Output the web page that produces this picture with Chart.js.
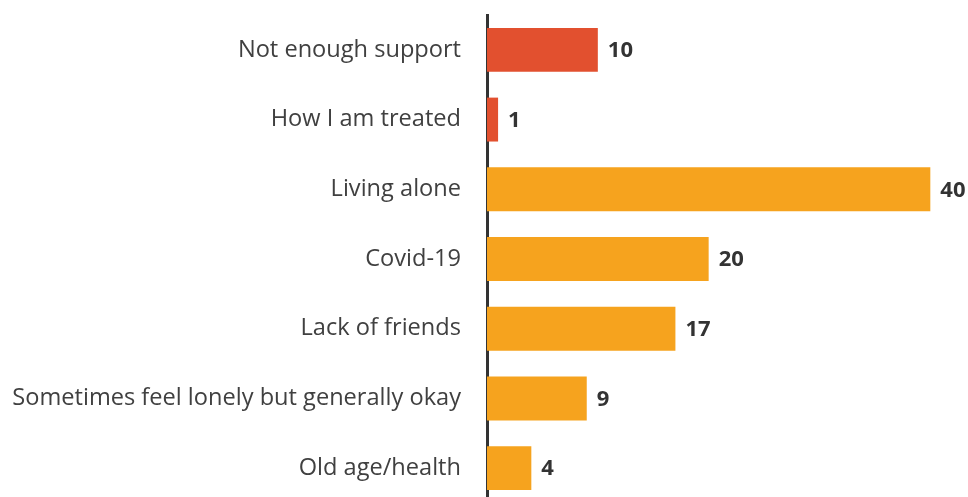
<!DOCTYPE html>
<html>
<head>
<meta charset="utf-8">
<script src="https://cdn.jsdelivr.net/npm/chart.js@4"></script>
<style>
  html, body { margin: 0; padding: 0; background: #fff; overflow: hidden; }
</style>
</head>
<body>
<canvas id="myChart" width="968" height="503"></canvas>
<script>
// categories and values
const categories = [
  "Not enough support",
  "How I am treated",
  "Living alone",
  "Covid-19",
  "Lack of friends",
  "Sometimes feel lonely but generally okay",
  "Old age/health"
];
const counts = [10, 1, 40, 20, 17, 9, 4];
const barColors = ["#E2502F", "#E2502F", "#F6A31E", "#F6A31E", "#F6A31E", "#F6A31E", "#F6A31E"];

// draws the count to the right of each bar
const valueLabels = {
  id: "valueLabels",
  afterDatasetsDraw(chart) {
    const ctx = chart.ctx;
    const meta = chart.getDatasetMeta(0);
    ctx.save();
    ctx.font = "bold 22px 'Open Sans'";
    ctx.fillStyle = "#333333";
    ctx.textBaseline = "middle";
    ctx.textAlign = "left";
    meta.data.forEach((bar, i) => {
      ctx.fillText(String(counts[i]), bar.x + 10, bar.y + 1);
    });
    ctx.restore();
  }
};

const ctx = document.getElementById("myChart").getContext("2d");
const chart = new Chart(ctx, {
  type: "bar",
  data: {
    labels: categories,
    datasets: [
      {
        data: counts,
        backgroundColor: barColors,
        borderWidth: 0,
        categoryPercentage: 1,
        barPercentage: 0.63
      }
    ]
  },
  options: {
    indexAxis: "y",
    responsive: false,
    animation: false,
    layout: { autoPadding: false, padding: { top: 15, right: 0, bottom: 0, left: 0 } },
    plugins: {
      legend: { display: false },
      tooltip: { enabled: false }
    },
    scales: {
      x: {
        display: false,
        min: 0,
        max: 43.4
      },
      y: {
        afterFit(scale) {
          scale.width = 487;
          // tick padding also gets added above/below the axis, drop it
          scale.paddingTop = 0;
          scale.paddingBottom = 0;
        },
        grid: { display: false },
        border: { display: true, color: "#333333", width: 3 },
        ticks: {
          padding: 18,
          color: "#404040",
          font: { family: "'Open Sans'", size: 23.6 }
        }
      }
    }
  },
  plugins: [valueLabels]
});
</script>
</body>
</html>
